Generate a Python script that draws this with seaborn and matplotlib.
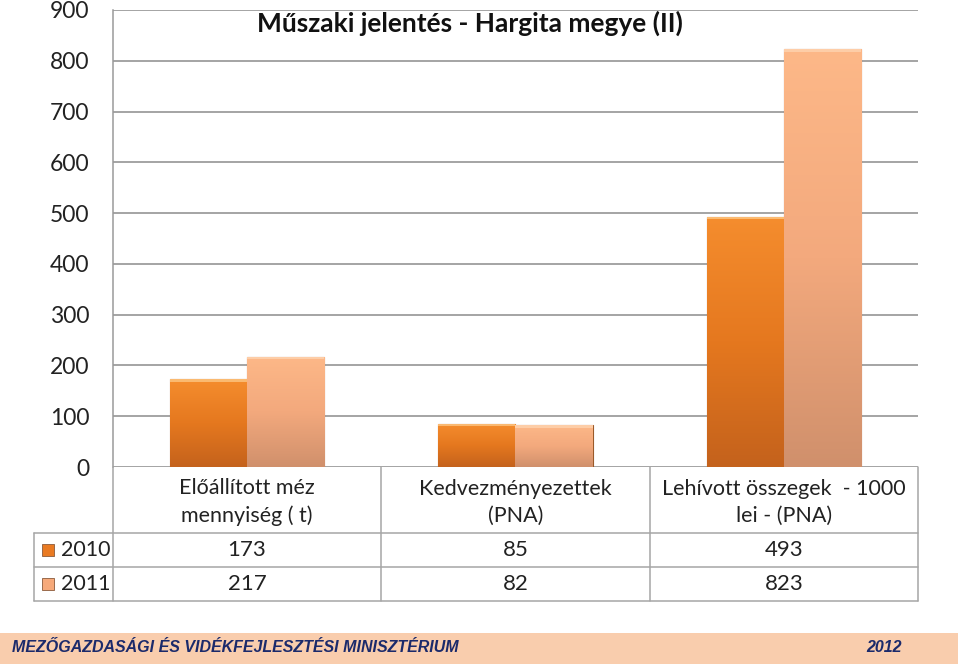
import numpy as np
import pandas as pd
import matplotlib
matplotlib.use("Agg")
import matplotlib.pyplot as plt
import seaborn as sns
from matplotlib.lines import Line2D
from matplotlib.patches import Rectangle
from matplotlib.colors import LinearSegmentedColormap

categories = ["Előállított méz\nmennyiség ( t)", "Kedvezményezettek\n(PNA)", "Lehívott összegek  - 1000\nlei - (PNA)"]
years = ["2010", "2011"]
values_2010 = [173, 85, 493]
values_2011 = [217, 82, 823]
yticks = [0, 100, 200, 300, 400, 500, 600, 700, 800, 900]
title = "Műszaki jelentés - Hargita megye (II)"
footer_left = "MEZŐGAZDASÁGI ÉS VIDÉKFEJLESZTÉSI MINISZTÉRIUM"
footer_right = "2012"

df = pd.DataFrame({
    "cat": categories * 2,
    "year": [years[0]] * 3 + [years[1]] * 3,
    "val": values_2010 + values_2011,
})

sns.set_theme(style="white")
FONT = ["Lato", "DejaVu Sans"]
plt.rcParams["font.family"] = FONT

W, H = 960, 664
fig = plt.figure(figsize=(W / 100, H / 100), dpi=100)
L, R, T, B = 113, 918, 10, 467
ax = fig.add_axes([L / W, 1 - B / H, (R - L) / W, (B - T) / H])

base_cols = {"2010": "#E97A22", "2011": "#F6A97A"}
sns.barplot(data=df, x="cat", y="val", hue="year", palette=base_cols,
            width=0.575, ax=ax, legend=False, saturation=1, zorder=3)

ax.set_ylim(0, 900)
ax.set_xlim(-0.5, 2.5)
ax.set_yticks(yticks)
ax.set_yticklabels([str(v) for v in yticks], fontsize=16.5, color="#222222")
ax.tick_params(axis="y", length=0, pad=17)
ax.set_xticks([])
ax.set_xlabel("")
ax.set_ylabel("")
ax.grid(axis="y", color="#8c8c8c", linewidth=1.1, zorder=0)
for s in ["top", "right", "bottom"]:
    ax.spines[s].set_visible(False)
ax.spines["left"].set_color("#9a9a9a")
ax.spines["left"].set_linewidth(1.1)

# gradient fills for bars
grads = {
    "2010": LinearSegmentedColormap.from_list("g0", ["#C4621C", "#E5781F", "#F58D2E"]),
    "2011": LinearSegmentedColormap.from_list("g1", ["#D0906C", "#F3A97D", "#FDB888"]),
}
grad = np.linspace(0, 1, 256).reshape(-1, 1)
patches = list(ax.patches)
for i, p in enumerate(patches):
    yr = years[i // 3]
    x0, y0 = p.get_x(), p.get_y()
    w, h = p.get_width(), p.get_height()
    p.set_edgecolor("#9a5a2a")
    p.set_linewidth(0.8)
    im = ax.imshow(grad, aspect="auto", cmap=grads[yr], origin="lower",
                   extent=[x0, x0 + w, y0, y0 + h], zorder=3.5)
    im.set_clip_path(p)
    # thin light top bevel
    ax.add_patch(Rectangle((x0, y0 + h - 5), w, 5, facecolor="#FFD9A0" if yr == "2010" else "#FFDDBE",
                           alpha=0.6, edgecolor="none", zorder=3.6))
ax.set_xlim(-0.5, 2.5)
ax.set_ylim(0, 900)

fig.text(470 / W, 1 - 23 / H, title, ha="center", va="center", fontsize=19,
         fontweight="bold", color="#111111")

# data table
def fx(px):
    return px / W

def fy(py):
    return 1 - py / H

gc = "#a6a6a6"
cols_x = [113, 381, 650, 918]
for x in cols_x:
    fig.add_artist(Line2D([fx(x), fx(x)], [fy(467), fy(601)], color=gc, lw=1.1))
fig.add_artist(Line2D([fx(34), fx(34)], [fy(533), fy(601)], color=gc, lw=1.1))
for y in [533, 567, 601]:
    fig.add_artist(Line2D([fx(34), fx(918)], [fy(y), fy(y)], color=gc, lw=1.1))

centers = [(cols_x[i] + cols_x[i + 1]) / 2 for i in range(3)]
for c, lab in zip(centers, categories):
    fig.text(fx(c), fy(502), lab, ha="center", va="center", fontsize=15.5,
             color="#222222", linespacing=1.42)

row_y = [550, 584]
series = [values_2010, values_2011]
for r, (yr, vals) in enumerate(zip(years, series)):
    yy = row_y[r]
    key = Rectangle((fx(42), fy(yy + 6)), fx(12), 12 / H, transform=fig.transFigure,
                    facecolor=base_cols[yr], edgecolor="#8a5a3a", lw=0.6)
    fig.add_artist(key)
    fig.text(fx(61), fy(yy), yr, ha="left", va="center", fontsize=15.5, color="#222222")
    for c, v in zip(centers, vals):
        fig.text(fx(c), fy(yy), str(v), ha="center", va="center", fontsize=16, color="#222222")

# footer banner
fig.add_artist(Rectangle((0, 0), fx(958), 31 / H, transform=fig.transFigure,
                         facecolor="#F9CDAD", edgecolor="none"))
fig.text(fx(12), fy(648), footer_left, ha="left", va="center", fontsize=11.5,
         fontweight="bold", fontstyle="italic", color="#1B2A6B",
         family=["Liberation Sans", "DejaVu Sans"])
fig.text(fx(902), fy(648), footer_right, ha="right", va="center", fontsize=11.5,
         fontweight="bold", fontstyle="italic", color="#1B2A6B",
         family=["Liberation Sans", "DejaVu Sans"])

fig.savefig("out.png", dpi=100)
